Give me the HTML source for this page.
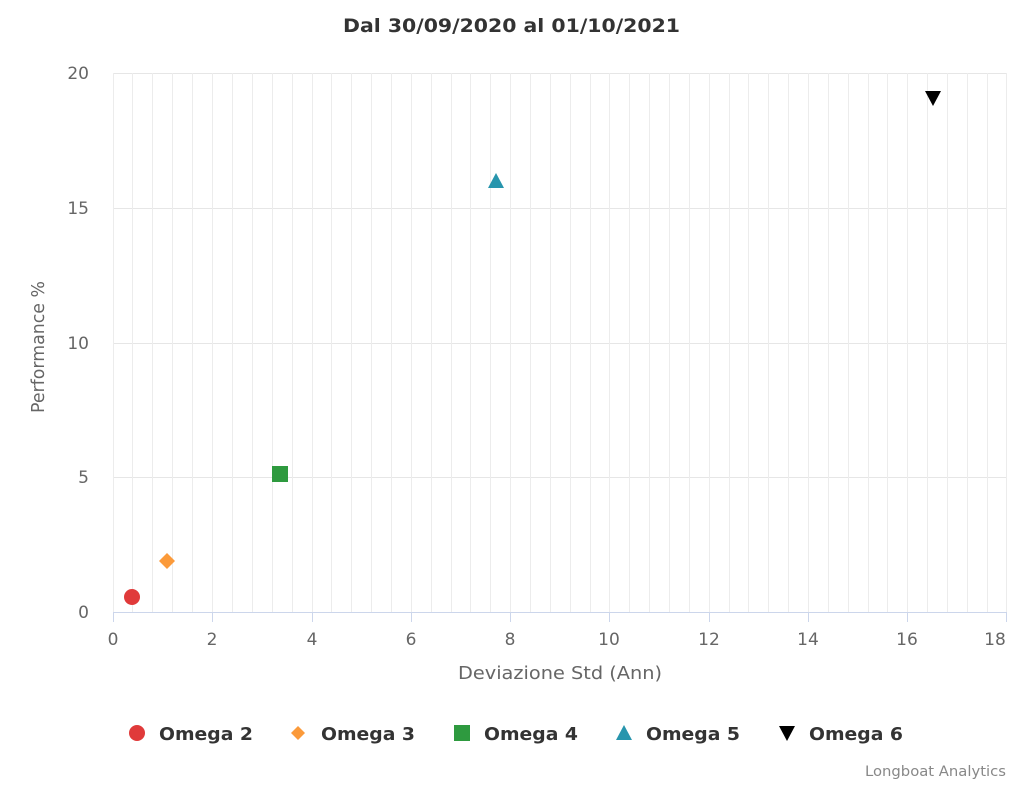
<!DOCTYPE html><html><head><style>body{margin:0;background:#fff}</style></head><body>
<svg width="1024" height="785" xmlns="http://www.w3.org/2000/svg" font-family="DejaVu Sans, Liberation Sans, sans-serif">
<rect width="1024" height="785" fill="#fff"/>
<text x="343" y="32" font-size="19" font-weight="bold" fill="#333" textLength="337" lengthAdjust="spacingAndGlyphs">Dal 30/09/2020 al 01/10/2021</text>
<g stroke="#e6e6e6">
<line x1="113" y1="73.5" x2="1007" y2="73.5"/>
<line x1="113" y1="208.5" x2="1007" y2="208.5"/>
<line x1="113" y1="343.5" x2="1007" y2="343.5"/>
<line x1="113" y1="477.5" x2="1007" y2="477.5"/>
</g>
<g stroke="#ececec">
<line x1="132.5" y1="73" x2="132.5" y2="612"/><line x1="152.5" y1="73" x2="152.5" y2="612"/><line x1="172.5" y1="73" x2="172.5" y2="612"/><line x1="192.5" y1="73" x2="192.5" y2="612"/><line x1="212.5" y1="73" x2="212.5" y2="612"/>
<line x1="232.5" y1="73" x2="232.5" y2="612"/><line x1="252.5" y1="73" x2="252.5" y2="612"/><line x1="272.5" y1="73" x2="272.5" y2="612"/><line x1="292.5" y1="73" x2="292.5" y2="612"/><line x1="312.5" y1="73" x2="312.5" y2="612"/>
<line x1="331.5" y1="73" x2="331.5" y2="612"/><line x1="351.5" y1="73" x2="351.5" y2="612"/><line x1="371.5" y1="73" x2="371.5" y2="612"/><line x1="391.5" y1="73" x2="391.5" y2="612"/><line x1="411.5" y1="73" x2="411.5" y2="612"/>
<line x1="431.5" y1="73" x2="431.5" y2="612"/><line x1="451.5" y1="73" x2="451.5" y2="612"/><line x1="470.5" y1="73" x2="470.5" y2="612"/><line x1="490.5" y1="73" x2="490.5" y2="612"/><line x1="510.5" y1="73" x2="510.5" y2="612"/>
<line x1="530.5" y1="73" x2="530.5" y2="612"/><line x1="550.5" y1="73" x2="550.5" y2="612"/><line x1="570.5" y1="73" x2="570.5" y2="612"/><line x1="590.5" y1="73" x2="590.5" y2="612"/><line x1="609.5" y1="73" x2="609.5" y2="612"/>
<line x1="629.5" y1="73" x2="629.5" y2="612"/><line x1="649.5" y1="73" x2="649.5" y2="612"/><line x1="669.5" y1="73" x2="669.5" y2="612"/><line x1="689.5" y1="73" x2="689.5" y2="612"/><line x1="709.5" y1="73" x2="709.5" y2="612"/>
<line x1="729.5" y1="73" x2="729.5" y2="612"/><line x1="748.5" y1="73" x2="748.5" y2="612"/><line x1="768.5" y1="73" x2="768.5" y2="612"/><line x1="788.5" y1="73" x2="788.5" y2="612"/><line x1="808.5" y1="73" x2="808.5" y2="612"/>
<line x1="828.5" y1="73" x2="828.5" y2="612"/><line x1="848.5" y1="73" x2="848.5" y2="612"/><line x1="868.5" y1="73" x2="868.5" y2="612"/><line x1="887.5" y1="73" x2="887.5" y2="612"/><line x1="907.5" y1="73" x2="907.5" y2="612"/>
<line x1="927.5" y1="73" x2="927.5" y2="612"/><line x1="947.5" y1="73" x2="947.5" y2="612"/><line x1="967.5" y1="73" x2="967.5" y2="612"/><line x1="987.5" y1="73" x2="987.5" y2="612"/><line x1="1006.5" y1="73" x2="1006.5" y2="612"/>
<line x1="113.5" y1="73" x2="113.5" y2="612"/>
</g>
<line x1="113" y1="612.5" x2="1007" y2="612.5" stroke="#ccd6eb"/>
<g stroke="#ccd6eb">
<line x1="113.5" y1="612" x2="113.5" y2="622"/><line x1="212.5" y1="612" x2="212.5" y2="622"/><line x1="312.5" y1="612" x2="312.5" y2="622"/><line x1="411.5" y1="612" x2="411.5" y2="622"/><line x1="510.5" y1="612" x2="510.5" y2="622"/><line x1="609.5" y1="612" x2="609.5" y2="622"/><line x1="709.5" y1="612" x2="709.5" y2="622"/><line x1="808.5" y1="612" x2="808.5" y2="622"/><line x1="907.5" y1="612" x2="907.5" y2="622"/><line x1="1006.5" y1="612" x2="1006.5" y2="622"/>
</g>
<g font-size="17" fill="#666" text-anchor="middle">
<text x="113" y="645">0</text><text x="212" y="645">2</text><text x="312" y="645">4</text><text x="411" y="645">6</text><text x="510" y="645">8</text><text x="609" y="645">10</text><text x="709" y="645">12</text><text x="808" y="645">14</text><text x="907" y="645">16</text><text x="995" y="645">18</text>
</g>
<g font-size="17" fill="#666" text-anchor="end">
<text x="89" y="618">0</text><text x="89" y="483">5</text><text x="89" y="349">10</text><text x="89" y="214">15</text><text x="89" y="79">20</text>
</g>
<text x="458" y="679" font-size="18" fill="#666" textLength="204" lengthAdjust="spacingAndGlyphs">Deviazione Std (Ann)</text>
<text transform="translate(44,413) rotate(-90)" font-size="18" fill="#666" textLength="132" lengthAdjust="spacingAndGlyphs">Performance %</text>
<circle cx="132" cy="597" r="8" fill="#e03a3a"/>
<path d="M167 553 L175 561 L167 569 L159 561Z" fill="#fb9a3a"/>
<rect x="272" y="466" width="16" height="16" fill="#2e9a3f"/>
<path d="M496 173 L504 188 L488 188Z" fill="#2795ad"/>
<path d="M925 91 L941 91 L933 106Z" fill="#000"/>
<g font-size="18" font-weight="bold" fill="#333">
<circle cx="137" cy="733" r="8" fill="#e03a3a"/><text x="159" y="740" textLength="94" lengthAdjust="spacingAndGlyphs">Omega 2</text>
<path d="M298 726 L305 733 L298 740 L291 733Z" fill="#fb9a3a"/><text x="321" y="740" textLength="94" lengthAdjust="spacingAndGlyphs">Omega 3</text>
<rect x="454" y="725" width="16" height="16" fill="#2e9a3f"/><text x="484" y="740" textLength="94" lengthAdjust="spacingAndGlyphs">Omega 4</text>
<path d="M624 725 L632 740 L616 740Z" fill="#2795ad"/><text x="646" y="740" textLength="94" lengthAdjust="spacingAndGlyphs">Omega 5</text>
<path d="M779 726 L795 726 L787 741Z" fill="#000"/><text x="809" y="740" textLength="94" lengthAdjust="spacingAndGlyphs">Omega 6</text>
</g>
<text x="865" y="776" font-size="14" fill="#888" textLength="141" lengthAdjust="spacingAndGlyphs">Longboat Analytics</text>
</svg>
</body></html>
